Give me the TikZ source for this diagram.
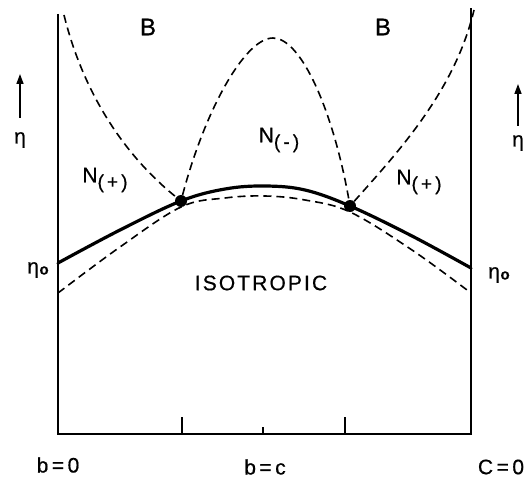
\documentclass[tikz,border=0pt]{standalone}
\usepackage{fontspec}
\setmainfont{Liberation Sans}
\newfontfamily\lblfont{Liberation Sans}[FakeBold=0.6]
\usetikzlibrary{arrows.meta}
\newcommand{\lowsub}[1]{\raisebox{-6pt}{\fontsize{19}{19}\selectfont #1}}
\newcommand{\etao}{η\kern0.5pt\raisebox{-1pt}{\fontsize{15}{15}\selectfont\bfseries o}}
\begin{document}
\begin{tikzpicture}[x=1pt,y=-1pt,
  axis/.style={line width=1.8pt},
  phase/.style={line width=3.2pt, line cap=round},
  spinodal/.style={line width=1.6pt, dash pattern=on 8pt off 5pt},
  lbl/.style={font=\lblfont\fontsize{21}{21}\selectfont, inner sep=0pt},
  dot/.style={circle, fill=black, minimum size=12pt, inner sep=0pt},
  uparrow/.style={line width=1.5pt, -{Triangle[length=10pt,width=7pt]}}]
\useasboundingbox (0,0) rectangle (529,481);
% axes
\coordinate (TL) at (58,14);
\coordinate (BL) at (58,434);
\coordinate (BR) at (471,434);
\coordinate (TR) at (471,8);
\draw[axis] (TL) -- (BL) -- (BR) -- (TR);
\coordinate (t1) at (182,434);
\coordinate (t2) at (263,434);
\coordinate (t3) at (345,434);
\draw[axis] (t1) -- ++(0,-17);
\draw[axis] (t2) -- ++(0,-7);
\draw[axis] (t3) -- ++(0,-17);
% triple points
\node[dot] (p1) at (181,201) {};
\node[dot] (p2) at (350,206) {};
\coordinate (top) at (273,38);
% first order transition line
\draw[phase] plot[smooth, tension=0.6] coordinates {(58,263) (120,230) (p1) (225,189) (265,186) (305,190) (p2) (412,236) (471,268)};
% lower dashed
\draw[spinodal] plot[smooth, tension=0.6] coordinates {(58,293) (120,247) (181,207) (225,198) (265,196) (305,200) (350,212) (412,250) (471,293)};
% upper left dashed
\coordinate (ul) at (64,15);
\draw[spinodal] (ul) .. controls (85,100) and (130,160) .. (p1);
% upper right dashed
\coordinate (ur) at (474,10);
\draw[spinodal] (p2) .. controls (400,150) and (455,90) .. (ur);
% central dashed
\draw[spinodal] (p1) .. controls (205,110) and (245,38) .. (top)
  .. controls (301,38) and (333,110) .. (p2);
% labels
\node[lbl, font=\lblfont\fontsize{24}{24}\selectfont] (B1) at (148,27) {B};
\node[lbl, font=\lblfont\fontsize{24}{24}\selectfont] (B2) at (383,27) {B};
\node[lbl] (Np1) at (105,180) {N\lowsub{(\,+\,)}};
\node[lbl] (Nm) at (279,140) {N\lowsub{(\,-\,)}};
\node[lbl] (Np2) at (419,182) {N\lowsub{(\,+\,)}};
\node[lbl, font=\lblfont\fontsize{21}{21}\selectfont\addfontfeatures{LetterSpace=10}] (iso) at (261,283) {ISOTROPIC};
\node[lbl] (e0l) at (38,270) {\etao};
\node[lbl] (e0r) at (499,275) {\etao};
\node[lbl] (el) at (20,140) {η};
\node[lbl] (er) at (518,143) {η};
\coordinate (a1s) at (20,118);
\coordinate (a1e) at (20,74);
\coordinate (a2s) at (518,126);
\coordinate (a2e) at (518,84);
\draw[uparrow] (a1s) -- (a1e);
\draw[uparrow] (a2s) -- (a2e);
\node[lbl] (b0) at (58,465) {b\,=\,0};
\node[lbl] (bc) at (265,467) {b\,=\,c};
\node[lbl] (c0) at (501,467) {C\,=\,0};
\end{tikzpicture}
\end{document}
